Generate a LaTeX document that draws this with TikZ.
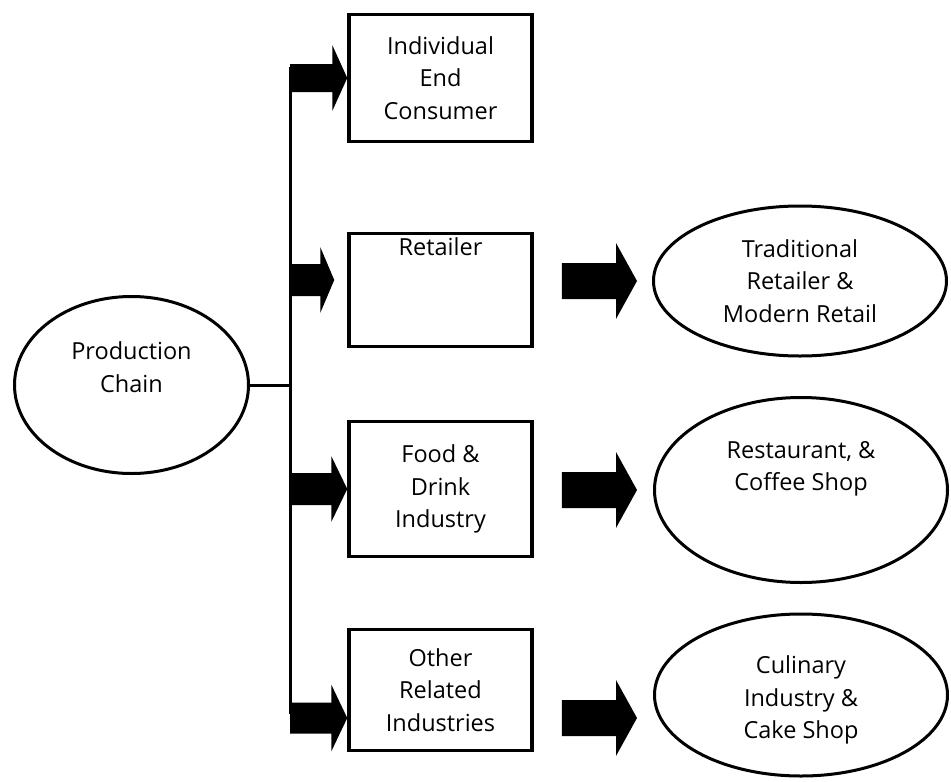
\documentclass[tikz,border=0pt]{standalone}
\usepackage{fontspec}
\setmainfont{Open Sans}
\usetikzlibrary{shapes.geometric,calc}

% Solid block arrow from the x of #1 to the tip #2
% #3 half body width, #4 half head width, #5 head length
\newcommand{\blockarrow}[5]{%
  \fill let \p1=(#1), \p2=(#2) in
    (\x1,\y2+#3) -- (\x2-#5,\y2+#3) -- (\x2-#5,\y2+#4) -- (\x2,\y2)
    -- (\x2-#5,\y2-#4) -- (\x2-#5,\y2-#3) -- (\x1,\y2-#3) -- cycle;}

\begin{document}
\begin{tikzpicture}[x=1pt,y=-1pt,
  every node/.style={font=\fontsize{23.5}{32.5}\selectfont},
  box/.style={draw, line width=3.5pt, rectangle, minimum width=183pt,
    inner sep=0pt, align=center},
  oval/.style={draw, line width=3pt, ellipse, inner sep=0pt, align=center},
  link/.style={line width=3pt}]
\useasboundingbox (0,0) rectangle (951,782);

% source
\node[oval, minimum width=234pt, minimum height=177pt] (prod) at (131.5,385) {};
\node[align=center] (prodtxt) at (131.5,367) {Production\\Chain};

% channel boxes
\node[box, minimum height=127pt] (b1) at (440.5,78) {Individual\\End\\Consumer};
\node[box, minimum height=113pt,
  label={[anchor=north, yshift=-2pt]north:Retailer}] (b2) at (440.5,290) {};
\node[box, minimum height=135pt] (b3) at (440.5,489) {Food \&\\Drink\\Industry};
\node[box, minimum height=121pt] (b4) at (440.5,690) {Other\\Related\\Industries};

% outlets
\node[oval, minimum width=293pt, minimum height=150pt] (e1) at (800,281) {};
\node[align=center] (e1txt) at (800,281) {Traditional\\Retailer \&\\Modern Retail};
\node[oval, minimum width=293pt, minimum height=185pt] (e2) at (801,490) {};
\node[align=center] (e2txt) at (801,469) {Restaurant, \&\\Coffee Shop};
\node[oval, minimum width=293pt, minimum height=162pt] (e3) at (801,695) {};
\node[align=center] (e3txt) at (801,700) {Culinary\\Industry \&\\Cake Shop};

% trunk line
\coordinate (trunktop) at (290,67);
\coordinate (trunkbot) at (290,714);
\draw[link] (trunktop) -- (trunkbot);
\draw[link] (prod.east) -- (prod.east -| trunktop);

% arrows from the trunk to the boxes
\coordinate (t1) at (b1.west);
\coordinate (t2) at ($(b2.west)+(-13,-10)$);
\coordinate (t3) at (b3.west);
\coordinate (t4) at ($(b4.west)+(0,28)$);
\blockarrow{trunktop}{t1}{14pt}{33pt}{15pt}
\blockarrow{trunktop}{t2}{16pt}{33pt}{14pt}
\blockarrow{trunktop}{t3}{16pt}{33pt}{16pt}
\blockarrow{trunktop}{t4}{15.5pt}{33.5pt}{16pt}

% arrows from the boxes to the outlets
\coordinate (s1) at ($(b2.east)+(28,-9)$);
\coordinate (s2) at ($(b3.east)+(28,1)$);
\coordinate (s3) at ($(b4.east)+(28,28)$);
\coordinate (r1) at ($(e1.west)+(-15,0)$);
\coordinate (r2) at ($(e2.west)+(-16,0)$);
\coordinate (r3) at ($(e3.west)+(-16,23)$);
\blockarrow{s1}{s1 -| r1}{18pt}{38pt}{21pt}
\blockarrow{s2}{s2 -| r2}{18pt}{38pt}{21pt}
\blockarrow{s3}{s3 -| r3}{18pt}{38pt}{21pt}
\end{tikzpicture}
\end{document}
